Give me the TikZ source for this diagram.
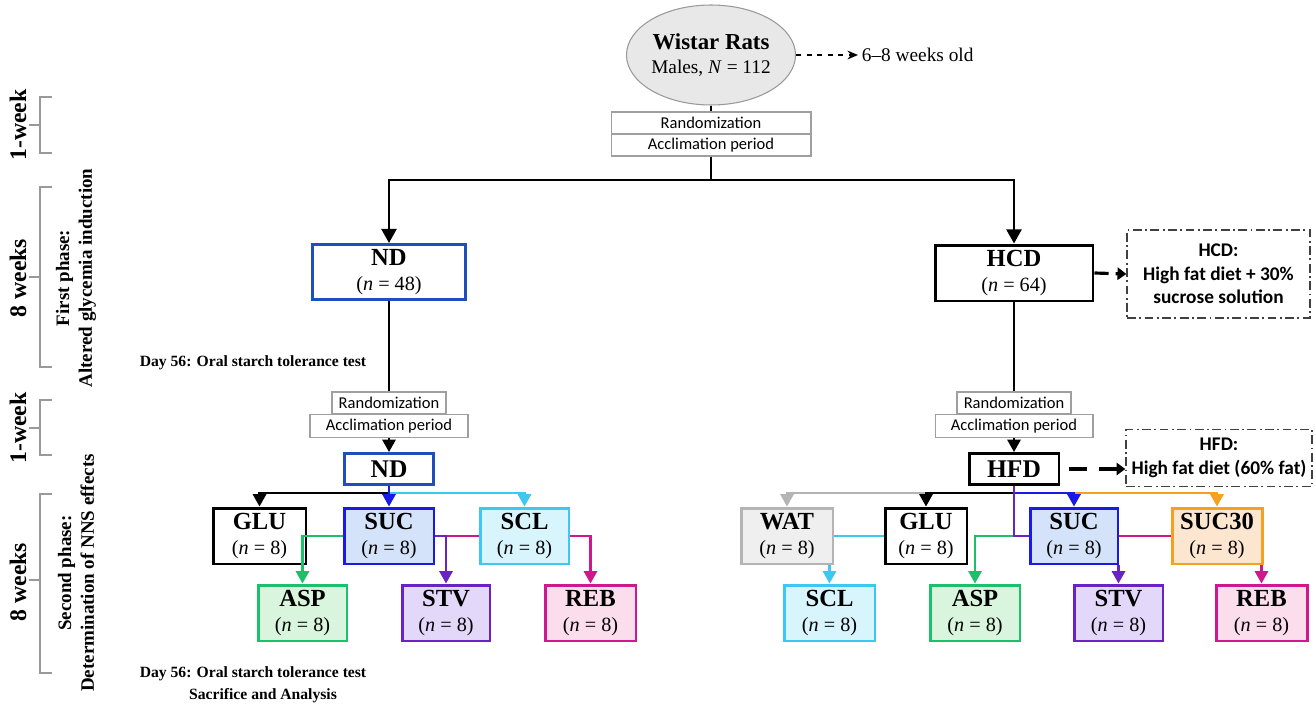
\documentclass[tikz,border=0pt]{standalone}
\usepackage{fontspec}
\setmainfont{Liberation Serif}
\newfontfamily\calib{Carlito}
\usetikzlibrary{arrows.meta,shapes.geometric,calc}
\definecolor{ndblue}{HTML}{1F4FBF}
\definecolor{sucblue}{HTML}{1A1AE6}
\definecolor{sucfill}{HTML}{D5E3FA}
\definecolor{sclcyan}{HTML}{3CC8F0}
\definecolor{sclfill}{HTML}{D8F4FC}
\definecolor{aspgreen}{HTML}{1CC06A}
\definecolor{aspfill}{HTML}{DAF5DD}
\definecolor{stvpur}{HTML}{6A22C4}
\definecolor{stvfill}{HTML}{E4D8FA}
\definecolor{rebmag}{HTML}{D0188E}
\definecolor{rebfill}{HTML}{FBDDEC}
\definecolor{watgray}{HTML}{B4B4B4}
\definecolor{watfill}{HTML}{EFEFEF}
\definecolor{orng}{HTML}{F5A020}
\definecolor{orfill}{HTML}{FDE6D0}
\definecolor{brk}{HTML}{999999}
\newcommand\grplab[2]{{\fontsize{14}{15}\selectfont\bfseries #1}\\[2pt]{\fontsize{11.5}{13}\selectfont(\textit{n} = #2)}}
\begin{document}
\begin{tikzpicture}[x=0.02cm,y=-0.02cm,
  conn/.style={line width=1.25pt},
  tip/.style={-{Triangle[width=7.5pt,length=7pt]}},
  bigtip/.style={-{Triangle[width=8.5pt,length=8pt]}},
  grp/.style={draw, line width=1.7pt, minimum height=1.12cm, inner sep=0pt, align=center},
  single/.style={draw, line width=1.7pt, minimum height=0.62cm, inner sep=0pt, font=\fontsize{14.5}{16}\selectfont\bfseries},
  rnd/.style={draw=gray!75, line width=0.6pt, minimum height=0.44cm, inner sep=0pt, font=\calib\fontsize{9.4}{11}\selectfont},
  note/.style={draw=black!75, line width=0.8pt, dash pattern=on 5pt off 2pt on 1pt off 2pt, inner sep=0pt, align=center, font=\calib\bfseries\fontsize{11}{13.5}\selectfont},
  brkline/.style={draw=brk, line width=0.6pt},
  side/.style={rotate=90, font=\bfseries\fontsize{13.5}{15}\selectfont},
  phase/.style={rotate=90, align=center, font=\bfseries\fontsize{10.8}{13}\selectfont},
  day/.style={font=\bfseries\fontsize{8.9}{10}\selectfont}
]
\useasboundingbox (0,0) rectangle (1315,706);

% ---------- timeline on the left ----------
\draw[brkline] (52,97) -- (40,97) -- (40,153) -- (52,153) (29,125) -- (40,125);
\draw[brkline] (52,187) -- (40,187) -- (40,367) -- (52,367) (29,277) -- (40,277);
\draw[brkline] (52,400) -- (40,400) -- (40,455) -- (52,455) (29,428) -- (40,428);
\draw[brkline] (52,494) -- (40,494) -- (40,673) -- (52,673) (29,580) -- (40,580);
\node[side] (w1) at (18,125) {1-week};
\node[side] (w8a) at (18,278) {8 weeks};
\node[side] (w1b) at (18,428) {1-week};
\node[side] (w8b) at (18,582) {8 weeks};
\node[phase] (ph1) at (76,278) {First phase:\\Altered glycemia induction};
\node[phase] (ph2) at (76,573) {Second phase:\\Determination of NNS effects};

% ---------- top ----------
\node[ellipse, draw=gray!80, fill=black!9, line width=0.6pt, minimum width=3.04cm, minimum height=2cm, inner sep=0pt, align=center] (wistar) at (711,55)
  {{\fontsize{13}{15}\selectfont\bfseries Wistar Rats}\\[2pt]{\fontsize{11}{13}\selectfont Males, \textit{N} = 112}};
\node[anchor=west, inner sep=2pt, font=\fontsize{11}{13}\selectfont] (age) at (858,55) {6–8 weeks old};
\draw[dashed, line width=0.8pt, -{Stealth[length=6pt,width=5pt]}] (wistar.east) -- (age.west);

\node[rnd, minimum width=4cm] (rand1) at (711,123) {Randomization};
\node[rnd, minimum width=4cm] (acc1) at (711,145) {Acclimation period};
\draw[line width=1pt] (wistar.south) -- (rand1.north);

\coordinate (top) at (711,180);
\node[grp, draw=ndblue, minimum width=3.08cm, minimum height=1.1cm] (nd) at (389,272) {\grplab{ND}{48}};
\node[grp, minimum width=3.16cm, minimum height=1.12cm] (hcd) at (1014,273) {\grplab{HCD}{64}};
\draw[line width=1.4pt] (acc1.south) -- (top);
\draw[line width=1.4pt, bigtip] (top) -| (nd.north);
\draw[line width=1.4pt, bigtip] (top) -| (hcd.north);

\node[note, minimum width=3.66cm, minimum height=1.76cm] (hcdnote) at (1218.5,274) {HCD:\\High fat diet + 30\%\\sucrose solution};
\draw[line width=1.8pt, dash pattern=on 8pt off 4pt, -{Triangle[width=7pt,length=5pt]}] (hcd.east) -- (hcdnote.west);

\node[day] (day1) at (253,363) {Day 56: Oral starch tolerance test};

% ---------- second phase, left ----------
\node[rnd, minimum width=2.28cm] (rand2) at (389,403) {Randomization};
\node[rnd, minimum width=3.16cm, minimum height=0.46cm] (acc2) at (389,426) {Acclimation period};
\draw[line width=1.4pt] (nd.south) -- (rand2.north);
\node[single, draw=ndblue, minimum width=1.78cm] (nd2) at (389,469) {ND};
\draw[conn, tip] (acc2.south) -- (nd2.north);

\node[grp] at (259.5,536) [minimum width=1.86cm] (glu1) {\grplab{GLU}{8}};
\node[grp, draw=sucblue, fill=sucfill, minimum width=1.8cm] (suc1) at (389,536) {\grplab{SUC}{8}};
\node[grp, draw=sclcyan, fill=sclfill, minimum width=1.78cm] (scl1) at (524.5,536) {\grplab{SCL}{8}};
\node[grp, draw=aspgreen, fill=aspfill, minimum width=1.78cm] (asp1) at (302.5,613) {\grplab{ASP}{8}};
\node[grp, draw=stvpur, fill=stvfill, minimum width=1.76cm] (stv1) at (446,613) {\grplab{STV}{8}};
\node[grp, draw=rebmag, fill=rebfill, minimum width=1.82cm] (reb1) at (590.5,613) {\grplab{REB}{8}};

\coordinate (lb) at (389,493);
\draw[conn, sclcyan, tip] (lb) -| (scl1.north);
\draw[conn, tip] (nd2.south) -- (lb) -| (glu1.north);
\draw[conn, sucblue, tip] (nd2.south) -- (suc1.north);
\draw[conn, aspgreen, tip] (suc1.west) -| (asp1.north);
\draw[conn, rebmag] (suc1.east) -- (scl1.west);
\draw[conn, rebmag, tip] (scl1.east) -| (reb1.north);
\draw[conn, stvpur, tip] (suc1.east) -| (stv1.north);

\node[day] (day2) at (253,674) {Day 56: Oral starch tolerance test};
\node[day] (sac) at (263,696) {Sacrifice and Analysis};

% ---------- second phase, right ----------
\node[rnd, minimum width=2.28cm] (rand3) at (1014,403) {Randomization};
\node[rnd, minimum width=3.16cm, minimum height=0.46cm] (acc3) at (1014,426) {Acclimation period};
\draw[line width=1.4pt] (hcd.south) -- (rand3.north);
\node[single, minimum width=1.8cm] (hfd) at (1014,469) {HFD};
\draw[conn, tip] (acc3.south) -- (hfd.north);

\node[note, minimum width=3.72cm, minimum height=1.14cm] (hfdnote) at (1219,458) {HFD:\\High fat diet (60\% fat)};
\draw[line width=1.8pt, dash pattern=on 10pt off 7pt, -{Triangle[width=7pt,length=5pt]}, shorten <=5pt] (hfd.east) -- (hfd.east -| hfdnote.west);

\node[grp, draw=watgray, fill=watfill, minimum width=1.84cm] (wat) at (787,536) {\grplab{WAT}{8}};
\node[grp, minimum width=1.64cm] (glu2) at (926,536) {\grplab{GLU}{8}};
\node[grp, draw=sucblue, fill=sucfill, minimum width=1.76cm] (suc2) at (1074,536) {\grplab{SUC}{8}};
\node[grp, draw=orng, fill=orfill, minimum width=1.8cm] (suc30) at (1217,536) {\grplab{SUC30}{8}};
\node[grp, draw=sclcyan, fill=sclfill, minimum width=1.82cm] (scl2) at (829.5,613) {\grplab{SCL}{8}};
\node[grp, draw=aspgreen, fill=aspfill, minimum width=1.8cm] (asp2) at (975,613) {\grplab{ASP}{8}};
\node[grp, draw=stvpur, fill=stvfill, minimum width=1.78cm] (stv2) at (1118.5,613) {\grplab{STV}{8}};
\node[grp, draw=rebmag, fill=rebfill, minimum width=1.82cm] (reb2) at (1261.5,613) {\grplab{REB}{8}};

\coordinate (rb) at (1014,493);
\draw[conn, orng, tip] (rb) -| (suc30.north);
\draw[conn, watgray, tip] (rb) -| (wat.north);
\draw[conn, tip] (rb) -| (glu2.north);
\draw[conn, sucblue, tip] (rb) -| (suc2.north);
\draw[conn, aspgreen, tip] (suc2.west) -| (asp2.north);
\draw[conn, stvpur] (hfd.south) |- (suc2.west);
\draw[conn, sclcyan] (wat.east) -- (glu2.west);
\draw[conn, sclcyan, tip] (scl2.north |- wat.south) -- (scl2.north);
\draw[conn, rebmag] (suc2.east) -- (suc30.west);
\draw[conn, rebmag, tip] (reb2.north |- suc30.south) -- (reb2.north);
\draw[conn, stvpur, tip] (stv2.north |- suc2.south) -- (stv2.north);
\end{tikzpicture}
\end{document}
